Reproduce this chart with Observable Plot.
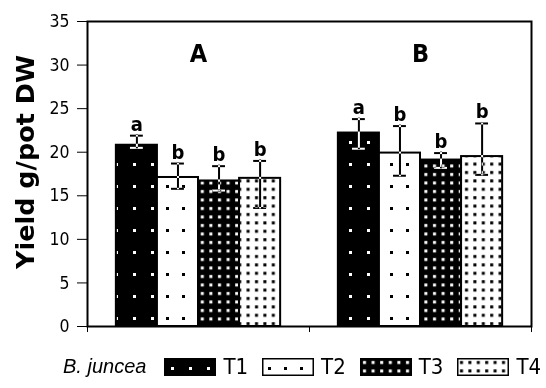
<!DOCTYPE html>
<html>
<head>
<meta charset="utf-8">
<script src="https://cdn.jsdelivr.net/npm/d3@7"></script>
<script src="https://cdn.jsdelivr.net/npm/@observablehq/plot@0.6"></script>
<style>
  body { margin: 0; background: #fff; }
  #legend { display: flex; align-items: center; height: 43px; padding-left: 63px; box-sizing: border-box; width: 546px;
            white-space: nowrap; font-family: "Liberation Sans Narrow", "DejaVu Sans Condensed", "Liberation Sans", sans-serif; color: #000; }
  #legend > * { flex-shrink: 0; }
  #legend .title { font-family: "Liberation Sans", sans-serif; font-style: italic; font-size: 20px; margin-right: 18px; }
  #legend svg { display: block; margin-right: 7px; }
  #legend .lab { font-size: 22px; margin-right: 14px; }
</style>
</head>
<body>
<div id="chart"></div>
<div id="legend"></div>
<script>
// ---- data ----
const groups = ["A", "B"];
const treatments = ["T1", "T2", "T3", "T4"];
const meanA = [20.8, 17.1, 16.7, 17.0];
const meanB = [22.2, 19.9, 19.1, 19.5];
const errHighA = [21.9, 18.7, 18.4, 19.0];
const errLowA = [20.5, 15.8, 15.6, 13.6];
const errHighB = [23.8, 23.0, 19.9, 23.3];
const errLowB = [20.4, 17.3, 18.2, 17.4];
const lettersA = ["a", "b", "b", "b"];
const lettersB = ["a", "b", "b", "b"];
const yTicks = [0, 5, 10, 15, 20, 25, 30, 35];
const yLabel = "Yield g/pot DW";
const legendTitle = "B. juncea";

// ---- table built from the arrays ----
const means = [meanA, meanB], highs = [errHighA, errHighB], lows = [errLowA, errLowB], letters = [lettersA, lettersB];
const rows = [];
groups.forEach((g, gi) => treatments.forEach((t, ti) => rows.push({
  group: g, gi, treatment: t, ti,
  mean: means[gi][ti], hi: highs[gi][ti], lo: lows[gi][ti], letter: letters[gi][ti]
})));

// dodge layout within each category (x scale: category index 0..2)
const barW = 0.185, capHalf = 0.029;
const center = d => d.gi + 0.5 + (d.ti - 1.5) * barW;
const caps = rows.flatMap(d => [{...d, v: d.hi}, {...d, v: d.lo}]);
const patternIds = treatments.map((t, i) => `pat${i}`);

const narrow = "'Liberation Sans Narrow', 'DejaVu Sans Condensed', 'Liberation Sans', sans-serif";

const chart = Plot.plot({
  width: 546,
  height: 345,
  marginLeft: 87,
  marginRight: 15,
  marginTop: 21,
  marginBottom: 19,
  style: { fontFamily: narrow, fontSize: "17.5px", color: "black", background: "white" },
  x: { domain: [0, 2], ticks: [0, 1, 2], tickFormat: () => "", tickSize: 6, label: null },
  y: { domain: [0, 35], ticks: yTicks, tickSize: 10, tickPadding: 8, label: null },
  color: { type: "ordinal", domain: treatments, range: patternIds.map(id => `url(#${id})`) },
  marks: [
    Plot.rect(rows, {
      x1: d => center(d) - barW / 2, x2: d => center(d) + barW / 2,
      y1: 0, y2: "mean", fill: "treatment", stroke: "black", strokeWidth: 2
    }),
    Plot.ruleX(rows, {
      x: center, y1: "lo", y2: "hi", stroke: "white", strokeWidth: 2,
      insetTop: 1, insetBottom: 1, mixBlendMode: "difference"
    }),
    Plot.ruleY(caps, {
      y: "v", x1: d => center(d) - capHalf, x2: d => center(d) + capHalf,
      stroke: "white", strokeWidth: 2, mixBlendMode: "difference"
    }),
    Plot.text(rows, {
      x: center, y: "hi", text: "letter", dy: -5, lineAnchor: "bottom",
      fontSize: 20, fontWeight: "bold", fontFamily: narrow, fill: "black"
    }),
    Plot.text(groups, {
      x: (d, i) => i + 0.5, frameAnchor: "top", lineAnchor: "top", dy: 23, text: d => d,
      fontSize: 25, fontWeight: "bold", fontFamily: narrow, fill: "black"
    }),
    Plot.text([yLabel], {
      frameAnchor: "left", textAnchor: "middle", rotate: -90, dx: -62, dy: -12, text: d => d,
      fontSize: 25.5, fontWeight: "bold", fontFamily: "'DejaVu Sans', sans-serif", fill: "black"
    }),
    Plot.frame({ stroke: "black", strokeWidth: 2 })
  ]
});

// pattern fills (styles for the bars)
const patterns = [
  { w: 18, h: 22, bg: "black", fg: "white", x: 7, y: 9, s: 3 },
  { w: 16, h: 22, bg: "white", fg: "black", x: 6, y: 9, s: 3 },
  { w: 8.6, h: 8.5, bg: "black", fg: "white", x: 3, y: 3, s: 3 },
  { w: 8.4, h: 8.4, bg: "white", fg: "black", x: 3, y: 3, s: 3 }
];
const defs = d3.select(chart).insert("defs", ":first-child");
patterns.forEach((p, i) => {
  const pat = defs.append("pattern").attr("id", patternIds[i])
    .attr("patternUnits", "userSpaceOnUse").attr("width", p.w).attr("height", p.h);
  pat.append("rect").attr("width", p.w).attr("height", p.h).attr("fill", p.bg);
  pat.append("rect").attr("x", p.x).attr("y", p.y).attr("width", p.s).attr("height", p.s).attr("fill", p.fg);
});
document.getElementById("chart").append(chart);

// legend
const legend = d3.select("#legend");
legend.append("span").attr("class", "title").text(legendTitle);
treatments.forEach((t, i) => {
  const sw = legend.append("svg").attr("width", 52).attr("height", 18);
  sw.append("rect").attr("x", 0.75).attr("y", 0.75).attr("width", 50.5).attr("height", 16.5)
    .attr("fill", `url(#${patternIds[i]})`).attr("stroke", "black").attr("stroke-width", 1.5);
  legend.append("span").attr("class", "lab").text(t);
});
</script>
</body>
</html>
